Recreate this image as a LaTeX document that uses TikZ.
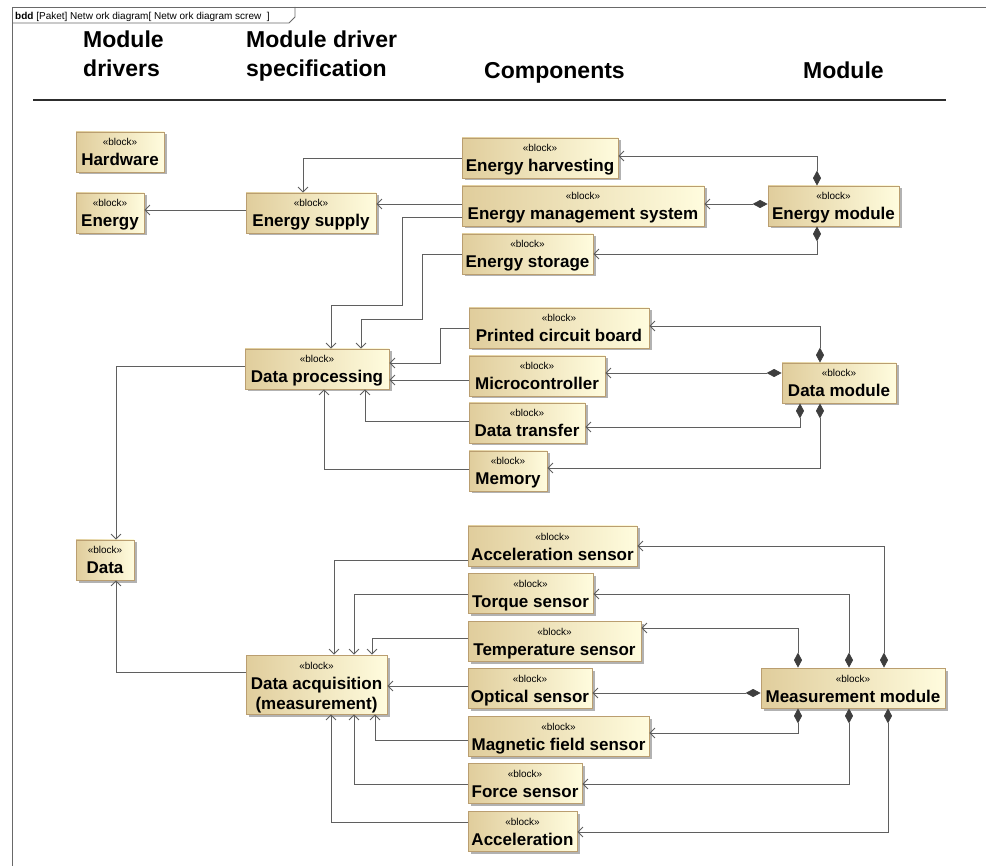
\documentclass[tikz,border=0pt]{standalone}
\usepackage{fontspec}
\setmainfont{Liberation Sans}
\usetikzlibrary{arrows.meta,shadows}

\definecolor{blkL}{RGB}{224,205,156}
\definecolor{blkR}{RGB}{255,252,222}
\definecolor{blkB}{RGB}{186,158,112}
\definecolor{wire}{RGB}{95,95,95}
\definecolor{compC}{RGB}{62,62,62}
\definecolor{frameC}{RGB}{105,105,105}
\definecolor{ruleC}{RGB}{45,45,45}

\newcommand\stereofont{\fontsize{10}{10}\selectfont}
\newcommand\namefont{\fontsize{17}{17}\selectfont\bfseries}
% stereotype line + name line(s), rows 20pt apart, baseline = first row
\newcommand\blocktext[1]{\vtop{\baselineskip=20pt\lineskiplimit=-\maxdimen\lineskip=0pt
  \halign{\hfil##\hfil\cr\stereofont «block»\cr#1\crcr}}}

\tikzset{
  blk/.style={draw=blkB, line width=0.8pt, left color=blkL, right color=blkR,
    inner sep=0pt, text height=14pt, text depth=26pt, minimum height=40pt,
    drop shadow={shadow xshift=2.5pt, shadow yshift=-2.5pt, fill=black, opacity=0.3}},
  link/.style={draw=wire, line width=0.8pt, -{Straight Barb[length=5pt,width=10pt]}},
  part/.style={draw=wire, line width=0.8pt,
    {Diamond[length=15pt,width=8pt,color=compC]}-{Straight Barb[length=5pt,width=10pt]}},
  hdr/.style={anchor=base west, inner sep=0pt, font=\fontsize{23}{27}\selectfont\bfseries},
}

\begin{document}
\begin{tikzpicture}[x=1pt, y=-1pt]
\useasboundingbox (0,0) rectangle (986,866);

% diagram frame and its name tab
\draw[frameC, line width=0.8pt] (12,866) -- (12,7) -- (986,7);
\draw[frameC, line width=0.8pt] (12,23) -- (289,23) -- (295,17) -- (295,7);
\node[anchor=base west, inner sep=0pt, font=\fontsize{10}{12}\selectfont] (tab) at (15,19.5)
  {\textbf{bdd} [Paket] Netw ork diagram[ Netw ork diagram screw\ \ ]};

% column headings
\node[hdr] (colA1) at (83,48) {Module};
\node[hdr] (colA2) at (83,77) {drivers};
\node[hdr] (colB1) at (246,48) {Module driver};
\node[hdr] (colB2) at (246,77) {specification};
\node[hdr] (colC) at (484,79) {Components};
\node[hdr] (colD) at (803,79) {Module};
\draw[ruleC, line width=2pt] (33,100.5) -- (946,100.5);

% module drivers
\node[blk, minimum width=88pt] (hw) at (120,152) {\blocktext{\namefont Hardware}};
\node[blk, minimum width=68pt] (en) at (110,213) {\blocktext{\namefont Energy}};
\node[blk, minimum width=58pt] (data) at (105,560) {\blocktext{\namefont Data}};

% module driver specifications
\node[blk, minimum width=130pt] (esup) at (311,213) {\blocktext{\namefont Energy supply}};
\node[blk, minimum width=144pt] (dp) at (317,369) {\blocktext{\namefont Data processing}};
\node[blk, minimum width=141pt, minimum height=59pt, text depth=45pt] (dacq) at (316.5,684.5)
  {\blocktext{\namefont Data acquisition\cr\namefont (measurement)}};

% components
\node[blk, minimum width=156pt] (eh) at (540,158) {\blocktext{\namefont Energy harvesting}};
\node[blk, minimum width=242pt] (ems) at (583,206) {\blocktext{\namefont Energy management system}};
\node[blk, minimum width=131pt] (est) at (527.5,254) {\blocktext{\namefont Energy storage}};
\node[blk, minimum width=180pt] (pcb) at (559,328) {\blocktext{\namefont Printed circuit board}};
\node[blk, minimum width=136pt] (mc) at (537,376) {\blocktext{\namefont Microcontroller}};
\node[blk, minimum width=116pt] (dt) at (527,423) {\blocktext{\namefont Data transfer}};
\node[blk, minimum width=78pt] (mem) at (508,471) {\blocktext{\namefont Memory}};
\node[blk, minimum width=169pt] (accs) at (552.5,546) {\blocktext{\namefont Acceleration sensor}};
\node[blk, minimum width=125pt] (torq) at (530.5,593) {\blocktext{\namefont Torque sensor}};
\node[blk, minimum width=173pt] (temp) at (554.5,641) {\blocktext{\namefont Temperature sensor}};
\node[blk, minimum width=124pt] (opt) at (530,688) {\blocktext{\namefont Optical sensor}};
\node[blk, minimum width=181pt] (mag) at (558.5,736) {\blocktext{\namefont Magnetic field sensor}};
\node[blk, minimum width=114pt] (force) at (525,783) {\blocktext{\namefont Force sensor}};
\node[blk, minimum width=109pt] (acc) at (522.5,831) {\blocktext{\namefont Acceleration}};

% modules
\node[blk, minimum width=131pt] (emod) at (833.5,206) {\blocktext{\namefont Energy module}};
\node[blk, minimum width=114pt] (dmod) at (839,383) {\blocktext{\namefont Data module}};
\node[blk, minimum width=184pt] (mmod) at (853,688) {\blocktext{\namefont Measurement module}};

% energy module composition
\draw[part] (817,0 |- emod.north) |- (eh.east |- 0,156);
\draw[part] (emod.west |- 0,204) -- (ems.east |- 0,204);
\draw[part] (817,0 |- emod.south) |- (est.east |- 0,254);
% energy components
\draw[link] (eh.west |- 0,158) -| (303,0 |- esup.north);
\draw[link] (ems.west |- 0,204) -- (esup.east |- 0,204);
\draw[link] (ems.west |- 0,217) -| (402,305) -| (331,0 |- dp.north);
\draw[link] (est.west |- 0,254) -| (422,319) -| (361,0 |- dp.north);
\draw[link] (esup.west |- 0,210) -- (en.east |- 0,210);

% data module composition
\draw[part] (820,0 |- dmod.north) |- (pcb.east |- 0,326);
\draw[part] (dmod.west |- 0,373) -- (mc.east |- 0,373);
\draw[part] (800,0 |- dmod.south) |- (dt.east |- 0,427);
\draw[part] (820,0 |- dmod.south) |- (mem.east |- 0,468);
% data components
\draw[link] (pcb.west |- 0,328) -| (440,363) -- (dp.east |- 0,363);
\draw[link] (mc.west |- 0,380) -- (dp.east |- 0,380);
\draw[link] (dt.west |- 0,421) -| (365,0 |- dp.south);
\draw[link] (mem.west |- 0,469) -| (324,0 |- dp.south);
\draw[link] (dp.west |- 0,366) -| (116,0 |- data.north);
\draw[link] (dacq.west |- 0,672) -| (116,0 |- data.south);

% measurement module composition
\draw[part] (884,0 |- mmod.north) |- (accs.east |- 0,546);
\draw[part] (849,0 |- mmod.north) |- (torq.east |- 0,594);
\draw[part] (798,0 |- mmod.north) |- (temp.east |- 0,628);
\draw[part] (mmod.west |- 0,693) -- (opt.east |- 0,693);
\draw[part] (798,0 |- mmod.south) |- (mag.east |- 0,733);
\draw[part] (849,0 |- mmod.south) |- (force.east |- 0,784);
\draw[part] (888,0 |- mmod.south) |- (acc.east |- 0,832);
% sensors
\draw[link] (accs.west |- 0,560) -| (334,0 |- dacq.north);
\draw[link] (torq.west |- 0,594) -| (354,0 |- dacq.north);
\draw[link] (temp.west |- 0,638) -| (372,0 |- dacq.north);
\draw[link] (opt.west |- 0,686) -- (dacq.east |- 0,686);
\draw[link] (mag.west |- 0,740) -| (375,0 |- dacq.south);
\draw[link] (force.west |- 0,784) -| (354,0 |- dacq.south);
\draw[link] (acc.west |- 0,822) -| (331,0 |- dacq.south);
\end{tikzpicture}
\end{document}
